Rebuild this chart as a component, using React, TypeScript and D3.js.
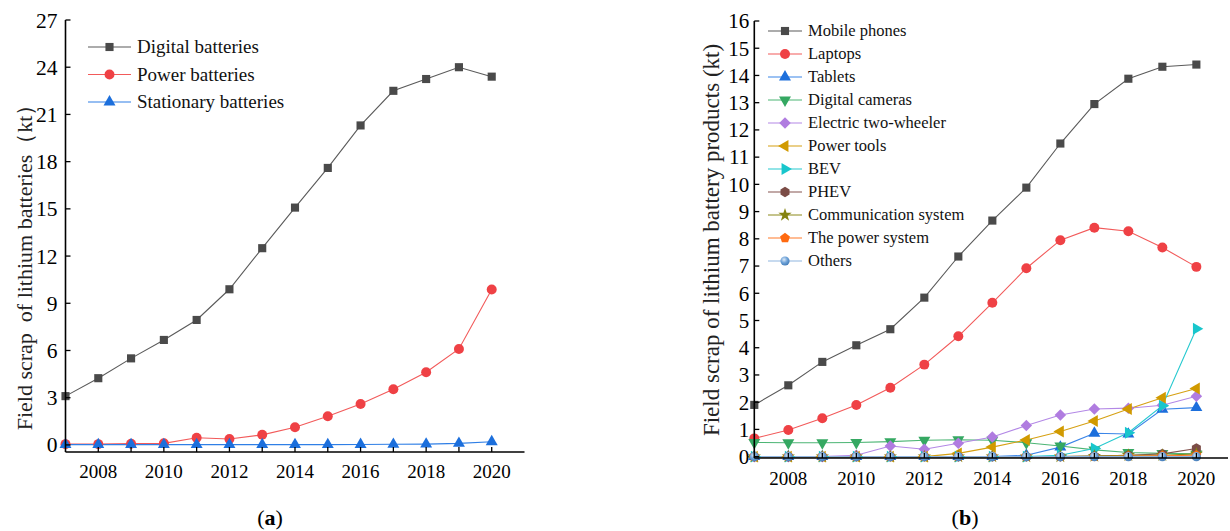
import React from "react";
import * as d3 from "d3";

// ---- Panel (a): field scrap of lithium batteries, by battery type ----
const yearsA = [2007, 2008, 2009, 2010, 2011, 2012, 2013, 2014, 2015, 2016, 2017, 2018, 2019, 2020];
const digitalBatteries = [3.1, 4.24, 5.5, 6.67, 7.94, 9.89, 12.5, 15.08, 17.6, 20.3, 22.5, 23.25, 24.0, 23.4];
const powerBatteries = [0.05, 0.05, 0.08, 0.1, 0.46, 0.38, 0.64, 1.12, 1.82, 2.6, 3.54, 4.62, 6.1, 9.87];
const stationaryBatteries = [0.02, 0.02, 0.02, 0.02, 0.02, 0.02, 0.02, 0.02, 0.02, 0.03, 0.04, 0.05, 0.1, 0.2];
const ticksYA = [0, 3, 6, 9, 12, 15, 18, 21, 24, 27];
const ticksXA = [2008, 2010, 2012, 2014, 2016, 2018, 2020];

// ---- Panel (b): field scrap of lithium battery products ----
const yearsB = yearsA;
const mobilePhones = [1.9, 2.62, 3.48, 4.09, 4.68, 5.84, 7.35, 8.67, 9.88, 11.5, 12.95, 13.88, 14.32, 14.4];
const laptops = [0.67, 0.98, 1.41, 1.9, 2.53, 3.38, 4.42, 5.65, 6.92, 7.95, 8.41, 8.28, 7.68, 6.97];
const tablets = [0, 0, 0, 0, 0, 0, 0, 0, 0.05, 0.35, 0.86, 0.83, 1.74, 1.8];
const digitalCameras = [0.52, 0.51, 0.51, 0.52, 0.55, 0.6, 0.62, 0.6, 0.51, 0.39, 0.25, 0.15, 0.12, 0.1];
const electricTwoWheeler = [0, 0, 0, 0.05, 0.39, 0.27, 0.49, 0.72, 1.14, 1.53, 1.75, 1.78, 1.89, 2.22];
const powerTools = [0, 0, 0, 0, 0, 0, 0.12, 0.35, 0.61, 0.92, 1.31, 1.75, 2.16, 2.5];
const bev = [0, 0, 0, 0, 0, 0, 0, 0, 0, 0.05, 0.3, 0.88, 1.87, 4.7];
const phev = [0, 0, 0, 0, 0, 0, 0, 0, 0, 0, 0.02, 0.05, 0.1, 0.3];
const communicationSystem = [0, 0, 0, 0, 0, 0, 0, 0, 0, 0, 0.02, 0.05, 0.05, 0.1];
const thePowerSystem = [0, 0, 0, 0, 0, 0, 0, 0, 0, 0, 0, 0.02, 0.03, 0.05];
const others = [0, 0, 0, 0, 0, 0, 0, 0, 0, 0, 0, 0, 0, 0];
const ticksYB = d3.range(0, 17);
const ticksXB = ticksXA;

const FONT = "'Liberation Serif', 'Times New Roman', serif";

type Shape = "square" | "circle" | "triUp" | "triDown" | "diamond" | "triLeft" | "triRight" | "hexagon" | "star" | "pentagon" | "sphere";

function polygon(n: number, r: number, rot: number) {
  const pts = d3.range(n).map((i) => {
    const a = rot + (i * 2 * Math.PI) / n;
    return [r * Math.cos(a), r * Math.sin(a)] as [number, number];
  });
  return "M" + pts.map((p) => p.join(",")).join("L") + "Z";
}

function Marker({ shape, x, y, color, s = 1 }: { shape: Shape; x: number; y: number; color: string; s?: number }) {
  let d = "";
  let rot = 0;
  switch (shape) {
    case "square":
      d = d3.symbol(d3.symbolSquare, 66 * s * s)()!;
      break;
    case "circle":
      d = d3.symbol(d3.symbolCircle, 78 * s * s)()!;
      break;
    case "triUp":
      d = d3.symbol(d3.symbolTriangle, 62 * s * s)()!;
      break;
    case "triDown":
      d = d3.symbol(d3.symbolTriangle, 62 * s * s)()!;
      rot = 180;
      break;
    case "triLeft":
      d = d3.symbol(d3.symbolTriangle, 62 * s * s)()!;
      rot = -90;
      break;
    case "triRight":
      d = d3.symbol(d3.symbolTriangle, 62 * s * s)()!;
      rot = 90;
      break;
    case "diamond":
      d = d3.symbol(d3.symbolSquare, 66 * s * s)()!;
      rot = 45;
      break;
    case "hexagon":
      d = polygon(6, 5.2 * s, -Math.PI / 2);
      break;
    case "pentagon":
      d = polygon(5, 5.2 * s, -Math.PI / 2);
      break;
    case "star":
      d = d3.symbol(d3.symbolStar, 55 * s * s)()!;
      break;
    case "sphere":
      d = d3.symbol(d3.symbolCircle, 66 * s * s)()!;
      break;
  }
  const fill = shape === "sphere" ? "url(#sphereGrad)" : color;
  return <path d={d} transform={`translate(${x},${y}) rotate(${rot})`} fill={fill} />;
}

interface Series {
  name: string;
  values: number[];
  line: string;
  marker: string;
  shape: Shape;
}

const seriesA: Series[] = [
  { name: "Digital batteries", values: digitalBatteries, line: "#5a5a5a", marker: "#4a4a4a", shape: "square" },
  { name: "Power batteries", values: powerBatteries, line: "#f25a5a", marker: "#ef4145", shape: "circle" },
  { name: "Stationary batteries", values: stationaryBatteries, line: "#2f7fe6", marker: "#1c6fdc", shape: "triUp" },
];

const seriesB: Series[] = [
  { name: "Mobile phones", values: mobilePhones, line: "#5a5a5a", marker: "#4a4a4a", shape: "square" },
  { name: "Laptops", values: laptops, line: "#f25a5a", marker: "#ef4145", shape: "circle" },
  { name: "Tablets", values: tablets, line: "#3a85e8", marker: "#1c6fdc", shape: "triUp" },
  { name: "Digital cameras", values: digitalCameras, line: "#4cb574", marker: "#35a862", shape: "triDown" },
  { name: "Electric two-wheeler", values: electricTwoWheeler, line: "#b388e6", marker: "#b07ce0", shape: "diamond" },
  { name: "Power tools", values: powerTools, line: "#d6a012", marker: "#d19a00", shape: "triLeft" },
  { name: "BEV", values: bev, line: "#26c9cf", marker: "#18c6cc", shape: "triRight" },
  { name: "PHEV", values: phev, line: "#855450", marker: "#7b4c46", shape: "hexagon" },
  { name: "Communication system", values: communicationSystem, line: "#8c8a1a", marker: "#85830f", shape: "star" },
  { name: "The power system", values: thePowerSystem, line: "#ff7a2a", marker: "#ff6a10", shape: "pentagon" },
  { name: "Others", values: others, line: "#8fb5e0", marker: "#5b93cc", shape: "sphere" },
];

function Panel({
  years, series, x, y, ticksX, ticksY, yLabel, yTickFont, yTickGap, xTickFont, xTickOffset, legend, caption, captionX,
}: {
  years: number[];
  series: Series[];
  x: d3.ScaleLinear<number, number>;
  y: d3.ScaleLinear<number, number>;
  ticksX: number[];
  ticksY: number[];
  yLabel: { text: string; x: number; y: number; size: number };
  yTickFont: number;
  yTickGap: number;
  xTickFont: number;
  xTickOffset: number;
  legend: { x: number; y: number; step: number; lineLen: number; size: number; s: number };
  caption: string;
  captionX: number;
}) {
  const [x0, x1] = x.range();
  const [yb, yt] = y.range();
  const line = d3.line<number>().x((_, i) => x(years[i])).y((v) => y(v));
  return (
    <g>
      {/* series lines and markers */}
      {series.map((s) => (
        <path key={s.name + "-l"} d={line(s.values)!} fill="none" stroke={s.line} strokeWidth={1.1} />
      ))}
      {series.map((s) => (
        <g key={s.name + "-m"}>
          {s.values.map((v, i) => (
            <Marker key={i} shape={s.shape} x={x(years[i])} y={y(v)} color={s.marker} s={legend.s} />
          ))}
        </g>
      ))}
      {/* axes */}
      <line x1={x0} x2={x0} y1={yt} y2={yb} stroke="#000" strokeWidth={1.6} />
      <line x1={x0} x2={x1} y1={yb} y2={yb} stroke="#000" strokeWidth={1.6} />
      {ticksY.map((t) => (
        <g key={"ty" + t}>
          <line x1={x0} x2={x0 + 5} y1={y(t)} y2={y(t)} stroke="#000" strokeWidth={1.3} />
          <text x={x0 - yTickGap} y={y(t)} dy="0.35em" textAnchor="end" fontSize={yTickFont} fontFamily={FONT}>
            {t}
          </text>
        </g>
      ))}
      {years.slice(1).map((t) => (
        <line key={"tx" + t} x1={x(t)} x2={x(t)} y1={yb} y2={yb - 5} stroke="#000" strokeWidth={1.3} />
      ))}
      {ticksX.map((t) => (
        <text key={"lx" + t} x={x(t)} y={yb + xTickOffset} textAnchor="middle" fontSize={xTickFont} fontFamily={FONT}>
          {t}
        </text>
      ))}
      <text
        transform={`translate(${yLabel.x},${yLabel.y}) rotate(-90)`}
        textAnchor="middle"
        fontSize={yLabel.size}
        fontFamily={FONT}
        fill="#222"
        style={{ whiteSpace: "pre" }}
      >
        {yLabel.text}
      </text>
      {/* legend */}
      {series.map((s, i) => {
        const ly = legend.y + i * legend.step;
        return (
          <g key={"lg" + s.name}>
            <line x1={legend.x} x2={legend.x + legend.lineLen} y1={ly} y2={ly} stroke={s.line} strokeWidth={1.1} />
            <Marker shape={s.shape} x={legend.x + legend.lineLen / 2} y={ly} color={s.marker} s={legend.s} />
            <text x={legend.x + legend.lineLen + 6} y={ly} dy="0.33em" fontSize={legend.size} fontFamily={FONT} fill="#111">
              {s.name}
            </text>
          </g>
        );
      })}
      <text x={captionX} y={525} textAnchor="middle" fontSize={22} fontFamily={FONT}>
        <tspan>(</tspan>
        <tspan fontWeight="bold">{caption}</tspan>
        <tspan>)</tspan>
      </text>
    </g>
  );
}

export default function App() {
  const xA = d3.scaleLinear().domain([2007, 2021]).range([65.5, 524.5]);
  const yA = d3.scaleLinear().domain([-0.45, 27]).range([452, 20]);
  const xB = d3.scaleLinear().domain([2007, 2020.93]).range([754.3, 1228]);
  const yB = d3.scaleLinear().domain([-0.05, 16]).range([458, 21]);
  return (
    <svg
      width={1230}
      height={531}
      viewBox="0 0 1230 531"
      style={{ position: "absolute", left: 0, top: 0, background: "#fff" }}
    >
      <defs>
        <radialGradient id="sphereGrad" cx="0.4" cy="0.35" r="0.7">
          <stop offset="0" stopColor="#ddeaf8" />
          <stop offset="0.5" stopColor="#6fa3d8" />
          <stop offset="1" stopColor="#3f78b5" />
        </radialGradient>
      </defs>
      <rect width={1230} height={531} fill="#fff" />
      <Panel
        years={yearsA}
        series={seriesA}
        x={xA}
        y={yA}
        ticksX={ticksXA}
        ticksY={ticksYA}
        yLabel={{ text: "Field scrap  of lithium batteries（kt）", x: 32, y: 262, size: 22 }}
        yTickFont={21.5}
        yTickGap={8}
        xTickFont={19}
        xTickOffset={26}
        legend={{ x: 88, y: 47, step: 27.5, lineLen: 43, size: 19, s: 1 }}
        caption="a"
        captionX={270}
      />
      <Panel
        years={yearsB}
        series={seriesB}
        x={xB}
        y={yB}
        ticksX={ticksXB}
        ticksY={ticksYB}
        yLabel={{ text: "Field scrap of lithium battery products (kt)", x: 719, y: 240, size: 23 }}
        yTickFont={21}
        yTickGap={5}
        xTickFont={19}
        xTickOffset={27}
        legend={{ x: 768, y: 31, step: 23, lineLen: 34, size: 16.5, s: 1 }}
        caption="b"
        captionX={965}
      />
    </svg>
  );
}
